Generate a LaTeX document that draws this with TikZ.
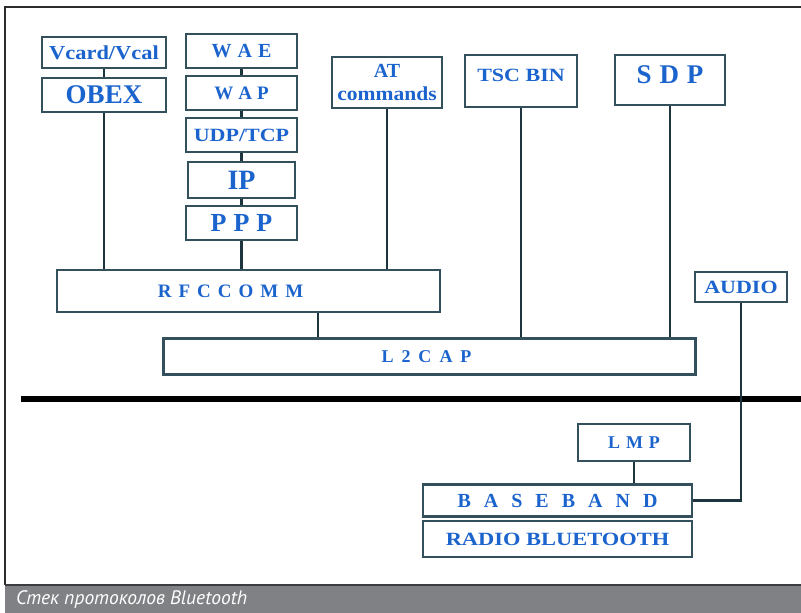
\documentclass[tikz,border=0pt]{standalone}
\usepackage{fontspec}
\setmainfont{Liberation Serif}
\newfontfamily\capfont{PT Sans}
\definecolor{boxline}{RGB}{52,80,92}
\definecolor{conline}{RGB}{30,52,62}
\definecolor{lblue}{RGB}{28,100,205}
\definecolor{capgray}{RGB}{128,129,132}
\definecolor{capline}{RGB}{60,60,62}
\definecolor{framecol}{RGB}{45,45,45}
\newcommand{\fs}[1]{\fontsize{#1}{#1}\selectfont}
\newcommand{\gp}[1]{\kern#1pt}
\tikzset{
  layer/.style={draw=boxline, line width=2.6pt, fill=white, inner sep=0pt,
    text=lblue, font=\bfseries, align=center},
  con/.style={draw=conline, line width=2.8pt},
}
\begin{document}
\begin{tikzpicture}[x=1pt,y=-1pt]
\useasboundingbox (0,0) rectangle (801,613);
\fill[white] (0,0) rectangle (801,613);
% frame and caption
\draw[framecol, line width=1.4pt] (5,585) -- (5,7) -- (801,7);
\fill[capgray] (5,585) rectangle (801,613);
\draw[capline, line width=1.4pt] (5,585) -- (801,585);
\node[anchor=base west, text=white, inner sep=0pt, font=\capfont\itshape\fs{19.5}] (cap) at (16,604) {Стек протоколов Bluetooth};

% thick separator
\draw[black, line width=6pt] (21,398.5) -- (801,398.5);

% boxes
\node[layer, minimum width=124, minimum height=31, font=\bfseries\fs{22}] (vcard) at (104,52.5) {\scalebox{1.02}[0.9]{Vcard/Vcal}};
\node[layer, minimum width=124, minimum height=34, font=\bfseries\fs{27}] (obex) at (104,95) {OBEX};
\node[layer, minimum width=111, minimum height=34, font=\bfseries\fs{20}] (wae) at (241.5,51) {W\gp{6}A\gp{6}E};
\node[layer, minimum width=111, minimum height=34, font=\bfseries\fs{19}] (wap) at (241.5,93) {W\gp{5}A\gp{5}P};
\node[layer, minimum width=111, minimum height=34, font=\bfseries\fs{22}] (udp) at (241.5,135) {\scalebox{1}[0.85]{UDP/TCP}};
\node[layer, minimum width=107, minimum height=36, font=\bfseries\fs{28}] (ip) at (241.5,180) {IP};
\node[layer, minimum width=111, minimum height=34, font=\bfseries\fs{26}] (ppp) at (241.5,223) {P\gp{7}P\gp{7}P};
\node[layer, minimum width=110, minimum height=51, font=\bfseries\fs{22}] (at) at (387,82.5) {\fs{20}AT\\[1pt]\scalebox{0.98}[0.9]{commands}};
\node[layer, minimum width=112, minimum height=52, font=\bfseries\fs{22}] (tsc) at (521,81) {\raisebox{12pt}{\scalebox{1}[0.85]{TSC BIN}}};
\node[layer, minimum width=110, minimum height=50, font=\bfseries\fs{27}] (sdp) at (670,80) {\raisebox{10pt}{S\gp{8}D\gp{8}P}};
\node[layer, minimum width=383, minimum height=42, font=\bfseries\fs{19}] (rfc) at (248.5,291) {\hspace*{-36pt}R\gp{7}F\gp{7}C\gp{7}C\gp{7}O\gp{7}M\gp{7}M};
\node[layer, minimum width=92, minimum height=30, font=\bfseries\fs{22}] (audio) at (741,287) {\scalebox{1}[0.85]{AUDIO}};
\node[layer, minimum width=532, minimum height=36, font=\bfseries\fs{18}] (l2cap) at (429.5,356.5) {\hspace*{-6pt}L\gp{8}2\gp{8}C\gp{8}A\gp{8}P};
\node[layer, minimum width=112, minimum height=37, font=\bfseries\fs{18}] (lmp) at (634,442.5) {L\gp{6}M\gp{6}P};
\node[layer, minimum width=269, minimum height=32, font=\bfseries\fs{20}] (base) at (557.5,500.5) {B\gp{13}A\gp{13}S\gp{13}E\gp{13}B\gp{13}A\gp{13}N\gp{13}D};
\node[layer, minimum width=269, minimum height=36, font=\bfseries\fs{22}] (radio) at (557.5,539) {\scalebox{1.02}[0.85]{RADIO BLUETOOTH}};

% connectors
\coordinate (rl) at (318,312);
\draw[con] (vcard.south) -- (obex.north);
\draw[con] (obex.south) -- (obex.south |- rfc.north);
\draw[con] (wae.south) -- (wap.north);
\draw[con] (wap.south) -- (udp.north);
\draw[con] (udp.south) -- (ip.north);
\draw[con] (ip.south) -- (ppp.north);
\draw[con] (ppp.south) -- (ppp.south |- rfc.north);
\draw[con] (at.south) -- (at.south |- rfc.north);
\draw[con] (tsc.south) -- (tsc.south |- l2cap.north);
\draw[con] (sdp.south) -- (sdp.south |- l2cap.north);
\draw[con] (rl |- rfc.south) -- (rl |- l2cap.north);
\draw[con] (lmp.south) -- (lmp.south |- base.north);
\draw[con] (audio.south) |- (base.east);
\end{tikzpicture}
\end{document}
